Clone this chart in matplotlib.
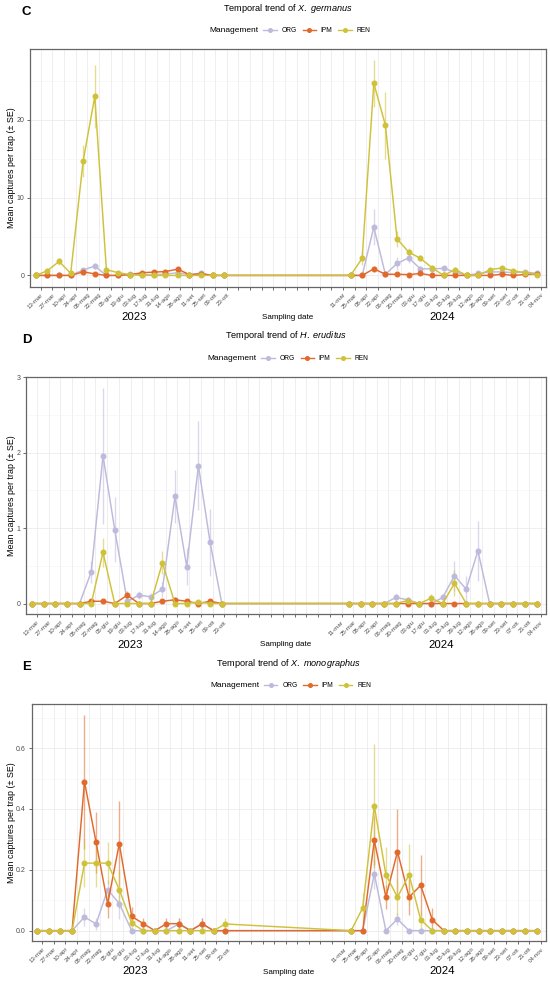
import matplotlib
matplotlib.use('Agg')
import matplotlib.pyplot as plt
import numpy as np
import pandas as pd
from matplotlib.lines import Line2D
from matplotlib.transforms import blended_transform_factory

plt.rcParams['font.family'] = ['Liberation Sans', 'DejaVu Sans']
plt.rcParams['mathtext.fontset'] = 'custom'
plt.rcParams['mathtext.it'] = 'Liberation Sans:italic'
plt.rcParams['mathtext.rm'] = 'Liberation Sans'

# ---------------- data ----------------
dates_2023 = ["2023-03-07", "2023-03-21", "2023-04-04", "2023-04-18", "2023-05-03",
              "2023-05-17", "2023-05-31", "2023-06-14", "2023-06-29", "2023-07-13",
              "2023-07-27", "2023-08-10", "2023-08-25", "2023-09-08", "2023-09-22",
              "2023-10-06", "2023-10-20"]
dates_2024 = ["2024-03-20", "2024-04-03", "2024-04-17", "2024-05-01", "2024-05-15",
              "2024-05-29", "2024-06-12", "2024-06-26", "2024-07-10", "2024-07-24",
              "2024-08-07", "2024-08-21", "2024-09-04", "2024-09-18", "2024-10-02",
              "2024-10-16", "2024-10-31"]

tick_labels_2023 = ["13-mar", "27-mar", "10-apr", "24-apr", "08-mag", "22-mag", "05-giu",
                    "19-giu", "03-lug", "17-lug", "31-lug", "14-ago", "28-ago", "11-set",
                    "25-set", "09-ott", "23-ott"]
tick_labels_2024 = ["11-mar", "25-mar", "08-apr", "22-apr", "06-mag", "20-mag", "03-giu",
                    "17-giu", "01-lug", "15-lug", "29-lug", "12-ago", "26-ago", "09-set",
                    "23-set", "07-ott", "21-ott", "04-nov"]
first_tick = "2023-03-13"
last_tick = "2024-11-04"

management = ["ORG", "IPM", "REN"]

# Panel C: X. germanus
C_ORG = [0, 0, 0, 0, 0.7, 1.2, 0, 0, 0.15, 0.1, 0.1, 0.15, 0.35, 0.1, 0.3, 0, 0,
         0, 0, 6.2, 0.13, 1.55, 2.25, 0.85, 0.85, 0.9, 0.45, 0, 0.25, 0.45, 0.45, 0.35, 0.45, 0.25]
C_ORG_SE = [0, 0, 0, 0, 0.3, 0.4, 0, 0, 0.1, 0.1, 0.1, 0.1, 0.2, 0.1, 0.2, 0, 0,
            0, 0, 2.3, 0.1, 0.8, 0.6, 0.3, 0.3, 0.3, 0.2, 0, 0.15, 0.2, 0.2, 0.2, 0.2, 0.15]
C_IPM = [0, 0, 0, 0, 0.45, 0.2, 0, 0, 0.1, 0.35, 0.42, 0.5, 0.8, 0.1, 0.2, 0, 0,
         0, 0, 0.85, 0.15, 0.15, 0.1, 0.25, 0, 0, 0, 0, 0, 0, 0.15, 0, 0.12, 0.15]
C_IPM_SE = [0, 0, 0, 0, 0.2, 0.1, 0, 0, 0.1, 0.15, 0.15, 0.2, 0.25, 0.1, 0.15, 0, 0,
            0, 0, 0.3, 0.1, 0.1, 0.1, 0.15, 0, 0, 0, 0, 0, 0, 0.1, 0, 0.1, 0.1]
C_REN = [0, 0.6, 1.8, 0.26, 14.7, 23.0, 0.73, 0.35, 0.1, 0, 0, 0, 0, 0, 0, 0, 0,
         0, 2.2, 24.7, 19.3, 4.7, 3.0, 2.2, 1.0, 0, 0.75, 0, 0, 0.75, 0.95, 0.6, 0.35, 0.1]
C_REN_SE = [0, 0.3, 0.5, 0.15, 2.1, 4.1, 0.3, 0.2, 0.1, 0, 0, 0, 0, 0, 0, 0, 0,
            0, 0.8, 3.0, 4.3, 1.0, 0.5, 0.4, 0.3, 0, 0.3, 0, 0, 0.3, 0.3, 0.2, 0.15, 0.1]

# Panel D: H. eruditus
D_ORG = [0, 0, 0, 0, 0, 0.42, 1.96, 0.98, 0.03, 0.11, 0.09, 0.19, 1.42, 0.49, 1.83, 0.81, 0,
         0, 0, 0, 0, 0.08, 0.05, 0, 0, 0.08, 0.37, 0.19, 0.70, 0, 0, 0, 0, 0]
D_ORG_SE = [0, 0, 0, 0, 0, 0.15, 0.9, 0.43, 0.03, 0.05, 0.05, 0.1, 0.35, 0.25, 0.59, 0.45, 0,
            0, 0, 0, 0, 0.04, 0.03, 0, 0, 0.05, 0.2, 0.17, 0.4, 0, 0, 0, 0, 0]
D_IPM = [0, 0, 0, 0, 0, 0.03, 0.03, 0, 0.11, 0, 0, 0.03, 0.05, 0.03, 0, 0.03, 0,
         0, 0, 0, 0, 0, 0, 0, 0, 0, 0, 0, 0, 0, 0, 0, 0, 0]
D_IPM_SE = [0, 0, 0, 0, 0, 0.02, 0.02, 0, 0.06, 0, 0, 0.02, 0.03, 0.02, 0, 0.02, 0,
            0, 0, 0, 0, 0, 0, 0, 0, 0, 0, 0, 0, 0, 0, 0, 0, 0]
D_REN = [0, 0, 0, 0, 0, 0, 0.68, 0, 0, 0, 0, 0.54, 0, 0, 0.02, 0, 0,
         0, 0, 0, 0, 0, 0.04, 0, 0.07, 0, 0.27, 0, 0, 0, 0, 0, 0, 0]
D_REN_SE = [0, 0, 0, 0, 0, 0, 0.19, 0, 0, 0, 0, 0.15, 0, 0, 0.02, 0, 0,
            0, 0, 0, 0, 0, 0.02, 0, 0.06, 0, 0.17, 0, 0, 0, 0, 0, 0, 0]

# Panel E: X. monographus
E_ORG = [0, 0, 0, 0, 0.045, 0.022, 0.135, 0.089, 0, 0, 0, 0, 0.022, 0, 0.022, 0, 0,
         0, 0, 0.187, 0, 0.038, 0, 0, 0, 0, 0, 0, 0, 0, 0, 0, 0, 0]
E_ORG_SE = [0, 0, 0, 0, 0.03, 0.02, 0.03, 0.05, 0, 0, 0, 0, 0.02, 0, 0.02, 0, 0,
            0, 0, 0.05, 0, 0.02, 0, 0, 0, 0, 0, 0, 0, 0, 0, 0, 0, 0]
E_IPM = [0, 0, 0, 0, 0.49, 0.29, 0.088, 0.286, 0.047, 0.023, 0, 0.023, 0.023, 0, 0.023, 0, 0,
         0, 0, 0.297, 0.11, 0.26, 0.11, 0.149, 0.036, 0, 0, 0, 0, 0, 0, 0, 0, 0]
E_IPM_SE = [0, 0, 0, 0, 0.22, 0.1, 0.045, 0.14, 0.03, 0.02, 0, 0.02, 0.02, 0, 0.02, 0, 0,
            0, 0, 0.08, 0.04, 0.14, 0.06, 0.1, 0.04, 0, 0, 0, 0, 0, 0, 0, 0, 0]
E_REN = [0, 0, 0, 0, 0.222, 0.222, 0.222, 0.135, 0.025, 0, 0, 0, 0, 0, 0, 0, 0.022,
         0, 0.075, 0.41, 0.184, 0.11, 0.184, 0.036, 0, 0, 0, 0, 0, 0, 0, 0, 0, 0]
E_REN_SE = [0, 0, 0, 0, 0.08, 0.08, 0.07, 0.06, 0.02, 0, 0, 0, 0, 0, 0, 0, 0.02,
            0, 0.05, 0.205, 0.09, 0.06, 0.1, 0.03, 0, 0, 0, 0, 0, 0, 0, 0, 0, 0]

colors = {"ORG": "#BDBADB", "IPM": "#E1692B", "REN": "#CFC23A"}

# ---------------- figure ----------------
W, H = 550, 985
fig = plt.figure(figsize=(W / 100, H / 100), dpi=100)

sampling_dates = pd.to_datetime(dates_2023 + dates_2024)
tick_dates = pd.date_range(first_tick, last_tick, freq='14D')
n_gap = len(tick_dates) - len(tick_labels_2023) - len(tick_labels_2024)
tick_labels = tick_labels_2023 + [""] * n_gap + tick_labels_2024
xlim = (pd.Timestamp("2023-02-28"), pd.Timestamp("2024-11-10"))
i24 = len(tick_labels_2023) + n_gap
year_centers = {
    "2023": tick_dates[0] + (tick_dates[len(tick_labels_2023) - 1] - tick_dates[0]) / 2,
    "2024": tick_dates[i24] + (tick_dates[-1] - tick_dates[i24]) / 2,
}

panels = [
    dict(letter="C", species="X.\\ germanus", top=49, bottom=286.7, left=30,
         data={"ORG": (C_ORG, C_ORG_SE), "IPM": (C_IPM, C_IPM_SE), "REN": (C_REN, C_REN_SE)},
         ylim=(-1.45, 29.1), yticks=[0, 10, 20], yminor=[5, 15, 25], fmt="{:.0f}"),
    dict(letter="D", species="H.\\ eruditus", top=376.7, bottom=614, left=26,
         data={"ORG": (D_ORG, D_ORG_SE), "IPM": (D_IPM, D_IPM_SE), "REN": (D_REN, D_REN_SE)},
         ylim=(-0.139, 3.008), yticks=[0, 1, 2, 3], yminor=[0.5, 1.5, 2.5], fmt="{:.0f}"),
    dict(letter="E", species="X.\\ monographus", top=704, bottom=941, left=31.5,
         data={"ORG": (E_ORG, E_ORG_SE), "IPM": (E_IPM, E_IPM_SE), "REN": (E_REN, E_REN_SE)},
         ylim=(-0.034, 0.745), yticks=[0, 0.2, 0.4, 0.6], yminor=[0.1, 0.3, 0.5, 0.7], fmt="{:.1f}"),
]
right = 545.7

for p in panels:
    l, t, b = p["left"], p["top"], p["bottom"]
    ax = fig.add_axes([l / W, 1 - b / H, (right - l) / W, (b - t) / H])
    ax.set_axisbelow(True)
    for name in management:
        m, s = p["data"][name]
        m = np.asarray(m, float)
        s = np.asarray(s, float)
        mask = s > 0
        ax.vlines(sampling_dates[mask], (m - s)[mask], (m + s)[mask],
                  color=colors[name], alpha=0.55, lw=1.0, zorder=2)
    for name in management:
        m, s = p["data"][name]
        ax.plot(sampling_dates, m, color=colors[name], lw=1.05, marker='o', ms=3.3,
                mec=colors[name], zorder=3)
    ax.set_xlim(*xlim)
    ax.set_ylim(*p["ylim"])
    ax.set_xticks(tick_dates)
    ax.set_xticklabels(tick_labels, rotation=45, ha='right', va='top',
                       rotation_mode='anchor')
    ax.set_yticks(p["yticks"])
    ax.set_yticklabels([p["fmt"].format(v) for v in p["yticks"]])
    ax.set_yticks(p["yminor"], minor=True)
    ax.tick_params(axis='x', which='major', length=2.5, width=0.5, color='#333333',
                   labelsize=4.4, labelcolor='#4D4D4D', pad=1.5)
    ax.tick_params(axis='y', which='major', length=2.5, width=0.5, color='#333333',
                   labelsize=5, labelcolor='#4D4D4D', pad=1.5)
    ax.tick_params(which='minor', length=0)
    ax.grid(which='major', color='#EBEBEB', lw=0.6)
    ax.grid(which='minor', axis='y', color='#F3F3F3', lw=0.4)
    for sp in ax.spines.values():
        sp.set_color('#666666')
        sp.set_linewidth(0.9)

    cx = (l + right) / 2
    title_y = t - 40.7
    fig.text(cx / W, 1 - title_y / H, r"Temporal trend of $\mathit{" + p["species"] + "}$",
             ha='center', va='center', fontsize=6.6)
    fig.text(22 / W, 1 - (title_y + 4) / H, p["letter"], ha='left', va='center',
             fontsize=9.5, fontweight='bold')
    leg_y = title_y + 22.4
    fig.text((cx - 78) / W, 1 - leg_y / H, "Management", ha='left', va='center', fontsize=6)
    handles = [Line2D([], [], color=colors[n], lw=1.0, marker='o', ms=2.6) for n in management]
    fig.legend(handles, management, loc='center', bbox_to_anchor=((cx + 29) / W, 1 - leg_y / H),
               ncol=3, frameon=False, fontsize=4.8, handlelength=2.0, handletextpad=0.7,
               columnspacing=0.9, borderpad=0, borderaxespad=0)
    fig.text(12 / W, 1 - ((t + b) / 2) / H, "Mean captures per trap (\u00b1 SE)",
             rotation=90, ha='center', va='center', fontsize=6.4)
    fig.text(cx / W, 1 - (b + 31) / H, "Sampling date", ha='center', va='center', fontsize=5.8)
    trans = blended_transform_factory(ax.transData, fig.transFigure)
    for yr, xc in year_centers.items():
        ax.text(xc, 1 - (b + 30.5) / H, yr, transform=trans, ha='center', va='center',
                fontsize=8.2)

fig.savefig("out.png", dpi=100)
